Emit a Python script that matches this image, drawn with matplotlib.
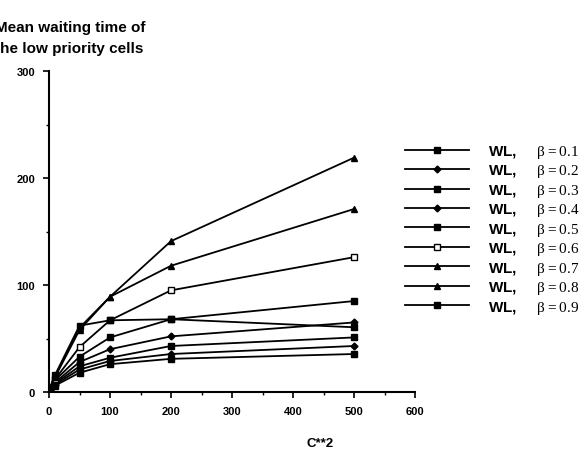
import matplotlib
matplotlib.use("Agg")
import matplotlib.pyplot as plt
from matplotlib.ticker import MultipleLocator

matplotlib.rcParams.update({
    "font.family": "Liberation Sans",
    "font.weight": "bold",
    "mathtext.fontset": "custom",
    "mathtext.rm": "Liberation Serif:weight=normal",
    "mathtext.bf": "Liberation Sans:bold",
    "axes.spines.top": False,
    "axes.spines.right": False,
})

# C**2 values
c2 = [1, 10, 50, 100, 200, 500]

# mean waiting time of the low priority cells, one list per beta
betas = ["0.1", "0.2", "0.3", "0.4", "0.5", "0.6", "0.7", "0.8", "0.9"]
wl_01 = [3, 6, 18, 26, 31, 35.5]
wl_02 = [3, 7, 21, 29, 35.5, 43]
wl_03 = [3, 8, 24, 32, 43, 51]
wl_04 = [3, 9, 28, 40, 52, 65]
wl_05 = [3, 11, 33, 51, 68, 85]
wl_06 = [3, 12, 42, 67, 95, 126]
wl_07 = [3, 14, 58, 89, 118, 171]
wl_08 = [3, 15, 60, 89, 141, 219]
wl_09 = [3, 16, 62, 67, 68, 60.5]
series = [wl_01, wl_02, wl_03, wl_04, wl_05, wl_06, wl_07, wl_08, wl_09]

markers = ["s", "D", "s", "D", "s", "s", "^", "^", "s"]
filled = [True, True, True, True, True, False, True, True, True]
msizes = [4.5, 3.5, 4.5, 3.5, 4.5, 4.5, 4.5, 4.5, 4.5]

fig = plt.figure(figsize=(5.86, 4.64), dpi=100)
ax = fig.add_axes([49 / 586, 1 - 393 / 464, 366 / 586, 321 / 464])

handles = []
for vals, b, m, f, ms in zip(series, betas, markers, filled, msizes):
    h, = ax.plot(c2, vals, color="black", linewidth=1.3,
                 marker=m, markersize=ms,
                 markerfacecolor="black" if f else "white",
                 markeredgecolor="black", markeredgewidth=1.0,
                 label=r"$\mathbf{WL,}$    $\mathrm{\beta = %s}$" % b)
    handles.append(h)

ax.set_xlim(0, 600)
ax.set_ylim(0, 300)
ax.xaxis.set_major_locator(MultipleLocator(100))
ax.xaxis.set_minor_locator(MultipleLocator(50))
ax.yaxis.set_major_locator(MultipleLocator(100))
ax.yaxis.set_minor_locator(MultipleLocator(50))
ax.tick_params(which="major", length=4, width=1.2, labelsize=8, pad=6)
ax.tick_params(which="minor", length=2.5, width=1.0)
for lab in ax.get_xticklabels() + ax.get_yticklabels():
    lab.set_fontweight("bold")
for sp in ("left", "bottom"):
    ax.spines[sp].set_linewidth(1.5)

ax.set_xlabel("C**2", fontsize=9.5, fontweight="bold")
ax.xaxis.set_label_coords(0.74, -0.14)

fig.text(-0.008, 0.94, "Mean waiting time of", fontsize=11,
         fontweight="bold", ha="left", va="center")
fig.text(-0.008, 0.894, "the low priority cells", fontsize=11,
         fontweight="bold", ha="left", va="center")

leg = ax.legend(handles=handles, loc="upper left",
                bbox_to_anchor=(405 / 586, 1 - 144 / 464),
                bbox_transform=fig.transFigure,
                frameon=False, handlelength=4.2, handletextpad=1.2,
                labelspacing=0.16, borderpad=0, borderaxespad=0,
                prop={"size": 11, "weight": "normal"})

fig.savefig("out.png", dpi=100)
